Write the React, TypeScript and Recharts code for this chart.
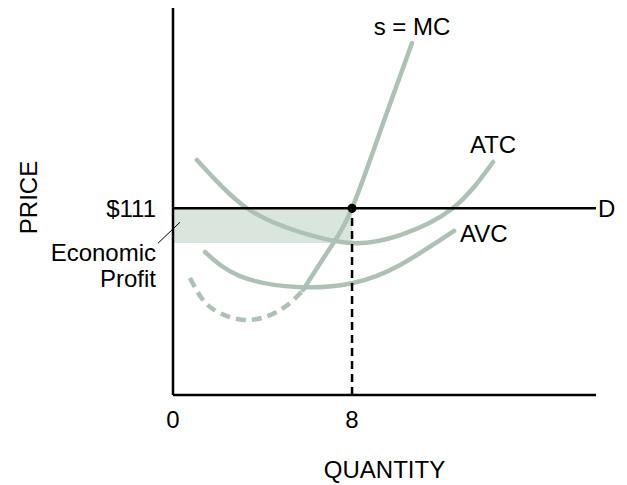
import React from "react";
import {
  LineChart,
  Line,
  XAxis,
  YAxis,
  ReferenceArea,
  ReferenceLine,
  ReferenceDot,
} from "recharts";

// values (quantity q, price p)
const atc = [
  { q: 1.07, p: 139.7 },
  { q: 3.31, p: 111.0 },
  { q: 5.68, p: 96.8 },
  { q: 8.0, p: 90.3 },
  { q: 10.15, p: 95.0 },
  { q: 12.51, p: 111.1 },
  { q: 14.3, p: 138.5 },
];

const avc = [
  { q: 1.43, p: 85.0 },
  { q: 2.99, p: 70.7 },
  { q: 5.54, p: 64.2 },
  { q: 8.04, p: 66.6 },
  { q: 10.15, p: 77.3 },
  { q: 12.56, p: 97.5 },
];

// MC below the AVC minimum (dashed)
const mcLow = [
  { q: 0.76, p: 69.5 },
  { q: 1.34, p: 56.5 },
  { q: 2.1, p: 48.7 },
  { q: 3.2, p: 44.6 },
  { q: 4.34, p: 47.5 },
  { q: 5.23, p: 54.7 },
  { q: 5.81, p: 62.4 },
];

// MC above the AVC minimum = supply curve
const mcHigh = [
  { q: 5.81, p: 62.4 },
  { q: 7.02, p: 87.3 },
  { q: 8.0, p: 111 },
  { q: 9.39, p: 161.6 },
  { q: 10.68, p: 209.2 },
];

const quantityTicks = [0, 8];
const priceTicks = [111];
const marketPrice = 111;
const outputQ = 8;
const atcAtOutput = 90.3;

const FONT = "'Liberation Sans', Arial, Helvetica, sans-serif";
const FS = 24;
const CURVE = "#adc2b5";
const SHADE = "#dae5de";

const ProfitLabel = (props: any) => {
  const vb = props.viewBox || {};
  const x = vb.x ?? 0;
  const y = vb.y ?? 0;
  return (
    <g>
      <line x1={x - 15} y1={y + 35} x2={x + 7} y2={y + 14} stroke="#000" strokeWidth={1} />
      <text x={x - 17} y={y + 44} textAnchor="end" dominantBaseline="central" fontSize={FS} fill="#000">
        Economic
      </text>
      <text x={x - 17} y={y + 70} textAnchor="end" dominantBaseline="central" fontSize={FS} fill="#000">
        Profit
      </text>
    </g>
  );
};

const PriceLabel = (props: any) => {
  const vb = props.viewBox || {};
  const cx = 28;
  const cy = (vb.y ?? 8) + (vb.height ?? 387) / 2 - 4;
  return (
    <text
      x={cx}
      y={cy}
      transform={`rotate(-90 ${cx} ${cy})`}
      textAnchor="middle"
      dominantBaseline="central"
      fontSize={FS}
      fill="#000"
    >
      PRICE
    </text>
  );
};

export default function App() {
  return (
    <div style={{ position: "absolute", left: 0, top: 0, background: "#fff" }}>
      <LineChart
        width={627}
        height={485}
        margin={{ top: 8, right: 31, bottom: 60, left: 113 }}
        style={{ fontFamily: FONT }}
      >
        <XAxis
          dataKey="q"
          type="number"
          domain={[0, 18.9]}
          ticks={quantityTicks}
          allowDataOverflow
          height={30}
          axisLine={{ stroke: "#000", strokeWidth: 2.5 }}
          tickLine={false}
          tickSize={0}
          tickMargin={16}
          tick={{ fill: "#000", fontSize: FS }}
          label={{ value: "QUANTITY", position: "bottom", offset: 36, fill: "#000", fontSize: FS }}
        />
        <YAxis
          type="number"
          domain={[0, 230]}
          ticks={priceTicks}
          allowDataOverflow
          width={60}
          axisLine={{ stroke: "#000", strokeWidth: 2.5 }}
          tickLine={false}
          tickSize={0}
          tickMargin={17}
          tick={{ fill: "#000", fontSize: FS }}
          tickFormatter={(v: number) => `$${v}`}
          label={<PriceLabel />}
        />

        <ReferenceArea
          x1={0}
          x2={outputQ}
          y1={atcAtOutput}
          y2={marketPrice}
          fill={SHADE}
          fillOpacity={1}
          stroke="none"
          label={<ProfitLabel />}
        />

        <Line
          data={atc}
          dataKey="p"
          type="natural"
          stroke={CURVE}
          strokeWidth={4.5}
          strokeLinecap="round"
          dot={false}
          activeDot={false}
          isAnimationActive={false}
        />
        <Line
          data={avc}
          dataKey="p"
          type="natural"
          stroke={CURVE}
          strokeWidth={4.5}
          strokeLinecap="round"
          dot={false}
          activeDot={false}
          isAnimationActive={false}
        />
        <Line
          data={mcLow}
          dataKey="p"
          type="natural"
          stroke={CURVE}
          strokeWidth={4.5}
          strokeDasharray="10 6"
          dot={false}
          activeDot={false}
          isAnimationActive={false}
        />
        <Line
          data={mcHigh}
          dataKey="p"
          type="natural"
          stroke={CURVE}
          strokeWidth={4.5}
          strokeLinecap="round"
          dot={false}
          activeDot={false}
          isAnimationActive={false}
        />

        <ReferenceLine
          y={marketPrice}
          stroke="#000"
          strokeWidth={2.5}
          label={{ value: "D", position: "right", offset: 2, fill: "#000", fontSize: FS }}
        />
        <ReferenceLine
          segment={[
            { x: outputQ, y: 0 },
            { x: outputQ, y: marketPrice },
          ]}
          stroke="#000"
          strokeWidth={2.5}
          strokeDasharray="8 5"
        />
        <ReferenceDot x={outputQ} y={marketPrice} r={4.5} fill="#000" stroke="none" />

        <ReferenceDot
          x={mcHigh[mcHigh.length - 1].q}
          y={mcHigh[mcHigh.length - 1].p}
          r={0}
          stroke="none"
          fill="none"
          label={{ value: "s = MC", position: "top", offset: 8, fill: "#000", fontSize: FS }}
        />
        <ReferenceDot
          x={atc[atc.length - 1].q}
          y={atc[atc.length - 1].p}
          r={0}
          stroke="none"
          fill="none"
          label={{ value: "ATC", position: "top", offset: 9, fill: "#000", fontSize: FS }}
        />
        <ReferenceDot
          x={avc[avc.length - 1].q}
          y={avc[avc.length - 1].p}
          r={0}
          stroke="none"
          fill="none"
          label={{ value: "AVC", position: "right", offset: 6, dy: 3, fill: "#000", fontSize: FS }}
        />
      </LineChart>
    </div>
  );
}
